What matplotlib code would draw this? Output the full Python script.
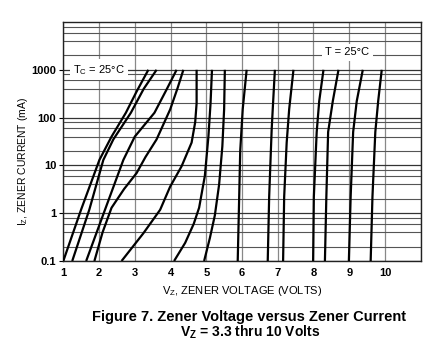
import matplotlib
matplotlib.use("Agg")
import matplotlib.pyplot as plt
from matplotlib.ticker import FixedLocator, NullFormatter, FixedFormatter

plt.rcParams['font.family'] = ['Liberation Sans', 'DejaVu Sans']
plt.rcParams['mathtext.fontset'] = 'custom'
plt.rcParams['mathtext.rm'] = 'Liberation Sans'
plt.rcParams['mathtext.bf'] = 'Liberation Sans:bold'

# ---- data (V, mA) ----
v_3v3 = [1.00, 1.50, 2.01, 2.35, 2.75, 3.05, 3.38]
i_3v3 = [0.1, 1.2, 13, 40, 126, 350, 1000]
v_3v6 = [1.25, 1.73, 2.12, 2.40, 2.89, 3.25, 3.61]
i_3v6 = [0.1, 1.2, 13, 35, 126, 400, 1000]
v_3v9 = [1.64, 2.17, 2.68, 3.00, 3.55, 3.90, 4.17]
i_3v9 = [0.1, 1.2, 13, 40, 126, 400, 1000]
v_4v3 = [1.87, 2.10, 2.35, 2.70, 3.05, 3.30, 3.61, 3.99, 4.20, 4.36]
i_4v3 = [0.1, 0.4, 1.3, 3.2, 6.9, 15, 35, 148, 420, 1000]
v_4v7 = [2.63, 3.24, 3.71, 3.99, 4.31, 4.59, 4.69, 4.73, 4.73]
i_4v7 = [0.1, 0.38, 1.18, 3.6, 9.6, 30, 80, 200, 1000]
v_5v1 = [4.10, 4.41, 4.65, 4.80, 4.96, 5.06, 5.12, 5.16]
i_5v1 = [0.1, 0.24, 0.6, 1.3, 6, 40, 200, 1000]
v_5v6 = [4.94, 5.10, 5.24, 5.36, 5.45, 5.50, 5.52]
i_5v6 = [0.1, 0.3, 0.9, 4, 25, 150, 1000]
v_6v2 = [5.88, 5.92, 5.95, 6.02, 6.13]
i_6v2 = [0.1, 2, 20, 150, 1000]
v_6v8 = [6.72, 6.76, 6.83, 6.86, 6.92]
i_6v8 = [0.1, 2.2, 56, 150, 1000]
v_7v5 = [7.15, 7.18, 7.25, 7.32, 7.44]
i_7v5 = [0.1, 2.2, 30, 150, 1000]
v_8v2 = [7.99, 8.01, 8.09, 8.16, 8.28]
i_8v2 = [0.1, 2.2, 50, 220, 1000]
v_8v7 = [8.32, 8.36, 8.41, 8.54, 8.70]
i_8v7 = [0.1, 2.2, 50, 220, 1000]
v_9v1 = [8.99, 9.04, 9.11, 9.21, 9.38]
i_9v1 = [0.1, 2.2, 50, 220, 1000]
v_10v = [9.60, 9.65, 9.73, 9.81, 9.91]
i_10v = [0.1, 2.2, 50, 220, 1000]

x_ticks = [1, 2, 3, 4, 5, 6, 7, 8, 9, 10]
y_ticks = [0.1, 1, 10, 100, 1000]
y_tick_labels = ['0.1', '1', '10', '100', '1000']

curves = [(v_3v3, i_3v3), (v_3v6, i_3v6), (v_3v9, i_3v9), (v_4v3, i_4v3),
          (v_4v7, i_4v7), (v_5v1, i_5v1), (v_5v6, i_5v6), (v_6v2, i_6v2),
          (v_6v8, i_6v8), (v_7v5, i_7v5), (v_8v2, i_8v2), (v_8v7, i_8v7),
          (v_9v1, i_9v1), (v_10v, i_10v)]

fig = plt.figure(figsize=(4.32, 3.50), dpi=100)
ax = fig.add_axes([63.3/432, 1-261/350, (420.7-63.3)/432, (261-22)/350])

ax.set_yscale('log')
ax.set_xlim(1, 11)
ax.set_ylim(0.1, 10000)

# grid
minor_y = [m * 10.0**e for e in range(-1, 4) for m in (2, 4, 6, 8)]
ax.yaxis.set_major_locator(FixedLocator(y_ticks))
ax.yaxis.set_major_formatter(FixedFormatter(y_tick_labels))
ax.yaxis.set_minor_locator(FixedLocator(minor_y))
ax.yaxis.set_minor_formatter(NullFormatter())
ax.xaxis.set_major_locator(FixedLocator(x_ticks + [11]))
ax.xaxis.set_major_formatter(FixedFormatter([str(t) for t in x_ticks] + ['']))

ax.grid(True, which='major', axis='y', color='#333333', lw=0.9)
ax.grid(True, which='minor', axis='y', color='#555555', lw=0.8)
ax.grid(True, which='major', axis='x', color='#888888', lw=0.9)
ax.set_axisbelow(True)

for v, i in curves:
    ax.plot(v, i, color='black', lw=1.6, solid_capstyle='butt', zorder=3)

for s in ax.spines.values():
    s.set_color('#222222')
    s.set_linewidth(1.0)

ax.tick_params(axis='x', length=0, pad=5, labelsize=8)
ax.tick_params(axis='y', which='major', length=3, width=0.8, pad=2, labelsize=8)
ax.tick_params(axis='y', which='minor', length=0)
for lab in ax.get_xticklabels() + ax.get_yticklabels():
    lab.set_fontweight('bold')

ax.set_xlabel(r'V$_{\mathregular{Z}}$, ZENER VOLTAGE (VOLTS)', fontsize=8, labelpad=4)
ax.set_ylabel(r'I$_{\mathregular{Z}}$, ZENER CURRENT (mA)', fontsize=7.5)
ax.yaxis.set_label_coords(-0.093, 0.415)

bbox = dict(facecolor='white', edgecolor='none', pad=2.5)
ax.text(2.0, 1000, r'T$_{\mathregular{C}}$ = 25°C', fontsize=8, ha='center', va='center',
        bbox=bbox, zorder=4)
ax.text(8.95, 2350, 'T = 25°C', fontsize=8, ha='center', va='center', bbox=bbox, zorder=4)

fig.text(249/432, 1-317/350, 'Figure 7. Zener Voltage versus Zener Current',
         fontsize=10.5, fontweight='bold', ha='center', va='center')
fig.text(250/432, 1-332/350, r'V$_{\mathbf{Z}}$ = 3.3 thru 10 Volts',
         fontsize=10, fontweight='bold', ha='center', va='center')

fig.savefig('out.png', dpi=100)
